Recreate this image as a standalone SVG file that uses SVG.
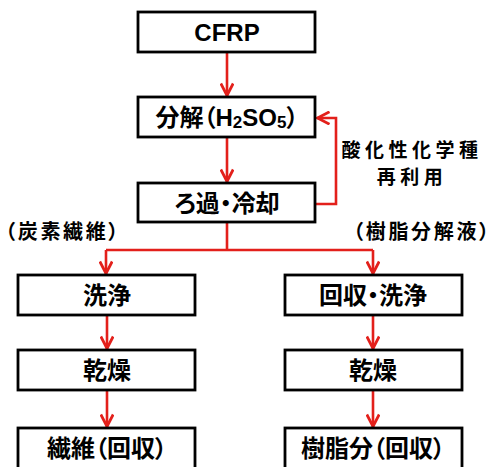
<svg xmlns="http://www.w3.org/2000/svg" width="493" height="467" viewBox="0 0 493 467">
<defs>
<style>
.box{fill:#fff;stroke:#000;stroke-width:2.8}
.t{font-family:"Liberation Sans","Noto Sans CJK JP",sans-serif;font-weight:bold;font-size:24px;fill:#000;text-anchor:middle;dominant-baseline:central;font-feature-settings:"palt"}
.a{font-family:"Noto Sans CJK JP",sans-serif;font-weight:bold;font-size:19px;fill:#000;text-anchor:middle;dominant-baseline:central;letter-spacing:4.5px}
.l{font-family:"Noto Sans CJK JP",sans-serif;font-weight:bold;font-size:20px;fill:#000;dominant-baseline:central;letter-spacing:2.7px;font-feature-settings:"palt"}
.c{fill:none;stroke:#e3201b;stroke-width:2.6}
</style>
<marker id="ah" viewBox="0 0 16 14" refX="14.5" refY="7" markerWidth="16" markerHeight="14" markerUnits="userSpaceOnUse" orient="auto">
<path d="M2,0.8 L14,7 L2,13.2" fill="none" stroke="#e3201b" stroke-width="2.8"/>
</marker>
</defs>
<rect width="493" height="467" fill="#fff"/>
<g id="connectors">
<path class="c" d="M227,52 V96" marker-end="url(#ah)"/>
<path class="c" d="M227,137 V182" marker-end="url(#ah)"/>
<path class="c" d="M315,204 H336 V118 H317" marker-end="url(#ah)"/>
<path class="c" d="M227,222 V250 M106,250 H373"/>
<path class="c" d="M106,250 V274" marker-end="url(#ah)"/>
<path class="c" d="M373,250 V274" marker-end="url(#ah)"/>
<path class="c" d="M107,315 V349" marker-end="url(#ah)"/>
<path class="c" d="M107,390 V427" marker-end="url(#ah)"/>
<path class="c" d="M373,315 V349" marker-end="url(#ah)"/>
<path class="c" d="M373,390 V427" marker-end="url(#ah)"/>
</g>
<g id="cfrp"><rect class="box" x="138" y="12" width="177" height="40"/><text class="t" x="227" y="32">CFRP</text></g>
<g id="bunkai"><rect class="box" x="138" y="97" width="177" height="40"/><text class="t" x="227" y="117">分解（H<tspan font-size="17" dy="5">2</tspan><tspan dy="-5">SO</tspan><tspan font-size="17" dy="5">5</tspan><tspan dy="-5">）</tspan></text></g>
<g id="roka"><rect class="box" x="138" y="183" width="177" height="39"/><text class="t" x="227" y="203">ろ過・冷却</text></g>
<g id="reuse-label"><text class="a" x="412" y="148">酸化性化学種</text><text class="a" x="412" y="175">再利用</text></g>
<g id="label-cf"><text class="l" x="5" y="230">（炭素繊維）</text></g>
<g id="label-resin"><text class="l" x="353" y="230">（樹脂分解液）</text></g>
<g id="senjo"><rect class="box" x="18" y="275" width="177" height="40"/><text class="t" x="107" y="295">洗浄</text></g>
<g id="kaishu-senjo"><rect class="box" x="285" y="275" width="177" height="40"/><text class="t" x="373" y="295">回収・洗浄</text></g>
<g id="kanso-l"><rect class="box" x="18" y="350" width="177" height="40"/><text class="t" x="107" y="370">乾燥</text></g>
<g id="kanso-r"><rect class="box" x="285" y="350" width="177" height="40"/><text class="t" x="373" y="370">乾燥</text></g>
<g id="sen-i"><rect class="box" x="18" y="428" width="177" height="50"/><text class="t" x="107" y="448">繊維（回収）</text></g>
<g id="jushi"><rect class="box" x="285" y="428" width="177" height="50"/><text class="t" x="373" y="448">樹脂分（回収）</text></g>
</svg>
